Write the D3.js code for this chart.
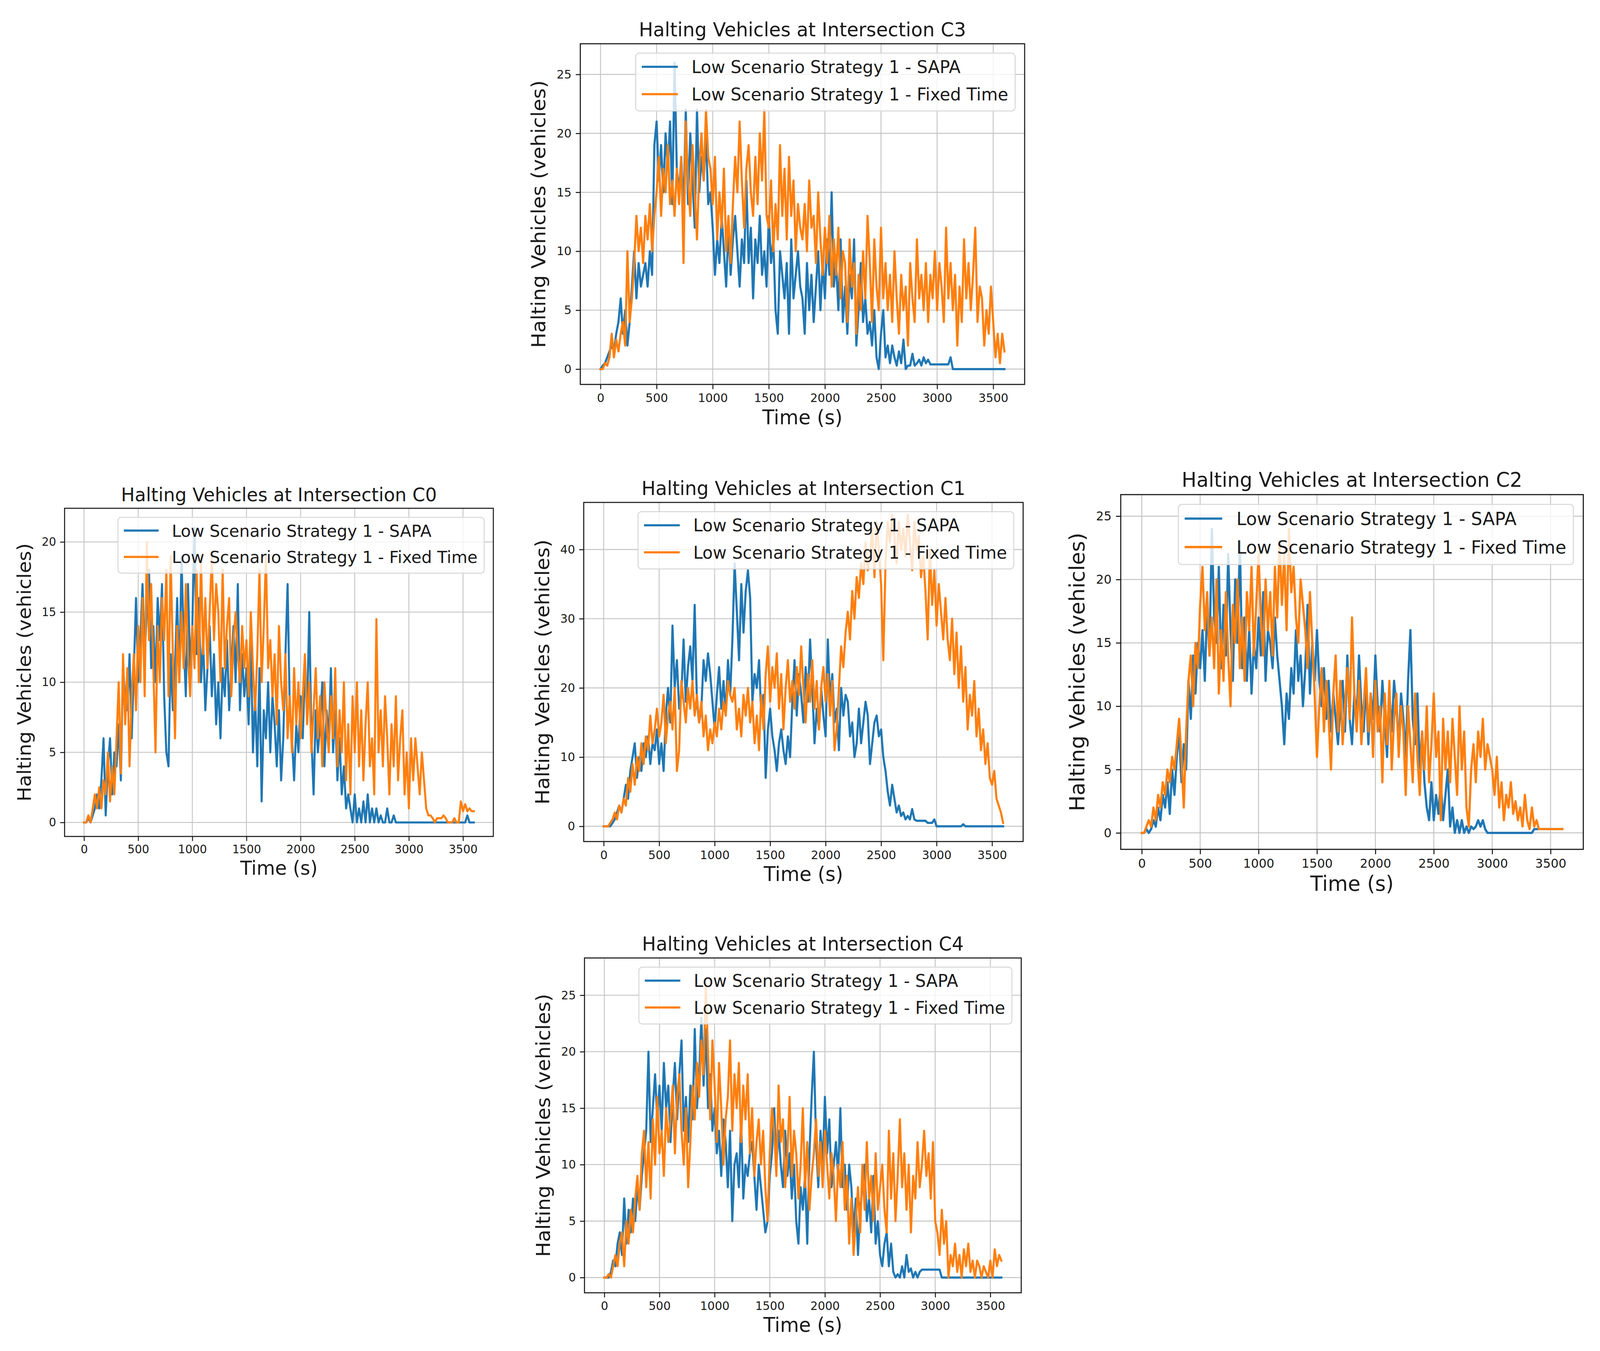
<!DOCTYPE html>
<html>
<head>
<meta charset="utf-8">
<script src="https://cdn.jsdelivr.net/npm/d3@7/dist/d3.min.js"></script>
<style>
  html, body { margin: 0; padding: 0; width: 100%; height: 100%; overflow: hidden; background: #fff; }
  svg { display: block; }
  text { font-family: "DejaVu Sans", sans-serif; fill: #1a1a1a; }
</style>
</head>
<body>
<script>
// halting vehicles, 5 intersections, SAPA vs fixed time
// one sample every 20 s, 0..3600 s

var STEP = 20;
var seriesNames = ["Low Scenario Strategy 1 - SAPA", "Low Scenario Strategy 1 - Fixed Time"];
var seriesColors = ["#1f77b4", "#ff7f0e"];
var xTicks = [0, 500, 1000, 1500, 2000, 2500, 3000, 3500];
var xLimits = [-180, 3780];

var c3Sapa = [
  0,0.3,0.5,1,1.5, 2,1.5,3,4,6, 3,5,2,4,7, 10,6,9,7,8, 9,7,10,8,19,
  21,16,19,15,20, 17,21,14,26,17, 15,18,13,22,14, 20,16,12,22,15, 18,16,20,14,15,
  12,8,11,9,13, 10,7,12,8,11, 13,10,7,11,9, 16,9,12,6,11, 9,13,8,10,7,
  13,9,11,5,3, 10,8,6,9,3, 11,6,8,10,7, 6,3,9,5,8, 4,7,10,5,9,
  6,11,8,15,7, 9,5,11,4,7, 3,8,6,11,2, 5,9,4,6,3, 4,2,5,1,0,
  3,5,1,2,0.5, 2,1,0.3,1.5,0.5, 2.5,0,0.3,0.3,1.3, 0.3,0.5,0.8,0.3,1, 0.5,0.8,0.4,0.4,0.4,
  0.4,0.4,0.4,0.4,0.4, 0.4,1,0,0,0, 0,0,0,0,0, 0,0,0,0,0, 0,0,0,0,0,
  0,0,0,0,0, 0
];
var c3Fixed = [
  0,0,0.5,0.3,1, 3,1,2.5,1.5,3, 4,2,10,4,6, 9,13,10,12,9, 13,11,14,10,13,
  15,18,13,17,15, 19,14,16,13,17, 14,18,9,21,16, 13,19,15,11,17, 20,16,22,18,17,
  14,18,11,15,12, 17,10,13,9,14, 18,15,21,16,12, 17,19,15,13,18, 14,20,16,22,13,
  12,16,10,14,11, 19,13,17,11,18, 13,16,10,14,12, 11,14,10,16,12, 13,9,15,11,8,
  12,9,13,7,11, 8,12,6,10,9, 4,11,7,9,3, 8,5,10,6,13, 9,4,11,7,5,
  12,6,9,5,8, 4,10,6,3,8, 5,7,2,9,6, 4,11,6,8,5, 9,4,8,6,10,
  5,9,7,4,12, 6,9,5,8,2, 7,4,11,6,9, 5,8,12,4,7, 6,2,5,3,7,
  4,1,3,0.5,3, 1.5
];

var c0Sapa = [
  0,0,0.3,0,0.5, 1,2,1,3,6, 0.5,4,6,2,5, 4,7,3,11,9, 8,12,6,11,16,
  10,13,17,12,15, 18,11,14,10,16, 13,17,9,5,4, 12,8,11,16,10, 19,13,9,17,11,
  14,21,12,16,10, 13,8,11,14,9, 12,7,10,6,11, 9,13,8,11,14, 10,17,8,12,9,
  11,7,13,5,9, 4,11,1.5,8,6, 10,5,9,7,4, 8,3,6,12,17, 8,6,3,7,5,
  9,6,11,8,15, 6,2,8,5,7, 10,4,8,6,11, 5,8,3,6,2, 4,1,2,1,0,
  2,0,1,0,1.5, 0,2,0,1,0, 1,0,0.5,0,0, 1,0,0,0.5,0, 0,0,0,0,0,
  0,0,0,0,0, 0,0,0,0,0, 0,0,0,0,0, 0,0,0,0,0, 0,0,0,0,0,
  0,0,0.5,0,0, 0
];
var c0Fixed = [
  0,0,0.5,0,1, 2,1,2.5,1,3, 2,5,1.5,4,2, 6,10,3.5,12,7, 11,4,9,12,8,
  14,10,16,9,20, 13,17,11,5,14, 10,16,13,18,9, 19,12,6,14,10, 15,11,17,12,9,
  14,11,18,10,19, 12,16,11,15,19, 13,17,15,10,18, 11,14,16,9,13, 15,12,10,14,11,
  13,9,15,11,8, 12,18,10,14,19, 11,13,9,12,7, 14,10,8,12,6, 9,5,11,7,10,
  6,9,12,7,10, 5,8,11,6,9, 4,10,7,5,9, 6,11,4,8,5, 10,3,7,2,9,
  5,10,4,8,3, 7,10,4,6,2, 14.5,5,8,4,9, 6,2,7,4,9, 3,6,8,2,5,
  1,6,3,6,4, 2,5,3,1,0.5, 0.5,0.3,0,0.3,0.3, 0.3,0.5,0.3,0,0, 0,0.3,0,0,1.5,
  0.8,1.3,0.8,1,0.8, 0.8
];

var c1Sapa = [
  0,0,0,0,0.5, 1,2,3,2,4, 6,4,8,10,12, 7,10,8,12,10, 13,9,12,11,14,
  9,12,8,16,20, 15,29,20,24,17, 19,27,18,23,26, 21,32,18,15,17, 24,21,25,22,18,
  14,19,23,17,21, 16,24,19,27,38, 31,24,35,28,34, 37,33,18,22,20, 24,16,19,7,14,
  17,13,11,8,12, 14,11,9,13,10, 18,24,16,22,19, 15,23,18,27,20, 12,17,14,20,16,
  13,27,18,22,15, 17,11,20,16,19, 18,13,15,10,12, 17,12,15,18,16, 9,12,15,16,13,
  14,10,8,5,3, 6,4,2,3,1.5, 2,1,1.5,1,2.5, 1,0.8,0.8,0.8,0.8, 0.8,0.5,0.5,0.5,1,
  0,0,0,0,0, 0,0,0,0,0, 0,0,0.3,0,0, 0,0,0,0,0, 0,0,0,0,0,
  0,0,0,0,0, 0
];
var c1Fixed = [
  0,0,0,0.5,1, 2,1,3,2,4, 3,7,5,9,6, 10,8,12,9,13, 11,16,12,14,17,
  13,15,19,12,16, 18,14,20,8,11, 21,18,15,20,17, 21,16,19,15,18, 13,16,11,14,12,
  15,13,17,14,18, 16,21,19,18,20, 14,17,13,19,16, 20,15,18,12,16, 11,19,14,22,26,
  18,23,20,25,17, 22,14,20,24,18, 21,17,23,19,26, 20,15,22,18,24, 17,21,14,20,23,
  18,22,16,21,11, 14,20,26,23,28, 31,27,34,30,36, 33,38,35,41,37, 39,43,36,44,40,
  35,24,38,44,41, 45,42,38,44,40, 43,39,45,41,37, 44,40,42,36,39, 34,27,40,32,37,
  29,35,31,27,33, 27,24,30,22,28, 20,26,18,23,14, 19,16,21,13,17, 11,14,9,12,7,
  6,8,4,3,2, 0.5
];

var c2Sapa = [
  0,0,0.3,0,0.3, 1,0.5,2,1,3, 2,4,1.5,5,3, 6,8,4,7,5, 12,9,14,11,15,
  13,16,12,18,14, 24,17,15,21,13, 18,14,22,16,12, 20,15,23,13,17, 12,16,11,15,13,
  17,14,19,12,16, 15,13,17,14,12, 10,7,11,9,13, 11,16,12,14,10, 13,18,11,15,12,
  16,12,10,13,9, 12,8,11,9,7, 10,12,8,14,9, 7,11,9,14,10, 8,12,7,11,9,
  14,10,8,12,9, 6,11,8,12,10, 7,11,9,6,12, 16,9,7,11,5, 8,4,2,1,4,
  1,3,1.5,4,1, 3,5,0.5,2,0, 1,0,1,0,0.5, 0,0.5,0.3,0.5,1, 0.5,1,0.3,0,0,
  0,0,0,0,0, 0,0,0,0,0, 0,0,0,0,0, 0,0,0,0.3,0.3, 0.3,0.3,0.3,0.3,0.3,
  0.3,0.3,0.3,0.3,0.3, 0.3
];
var c2Fixed = [
  0,0,0.5,1,0.5, 2,1,3,2,4, 3,5,4,6,5, 7,9,6,2,8, 12,14,10,15,13,
  18,21,16,19,14, 17,13,20,11,16, 12,19,14,10,18, 15,20,13,17,12, 19,16,21,14,18,
  22,17,14,20,16, 19,14,21,17,23, 18,22,16,24,19, 21,17,15,20,18, 16,13,19,15,11,
  6,10,13,8,12, 9,5,11,14,8, 12,7,10,13,9, 17,11,8,12,7, 10,13,8,11,6,
  12,8,10,4,11, 7,12,5,9,11, 6,10,8,3,10, 7,4,11,6,3, 8,5,10,4,7,
  11,6,8,1,9, 5,8,4,9,6, 3,10,5,8,2, 0.5,5,7,4,8, 6,9,5,7,6,
  5,3,6,2,4, 1,3,2,4,1.5, 2.5,1,2,0.5,3, 1,0.3,2,0.5,1, 0.3,0.3,0.3,0.3,0.3,
  0.3,0.3,0.3,0.3,0.3, 0.3
];

var c4Sapa = [
  0,0,0,0.5,1.5, 1,3,4,2,7, 3,6,4,7,5, 8,6,9,11,13, 20,12,15,18,14,
  17,13,19,15,17, 12,16,19,14,18, 21,13,16,12,17, 14,22,15,18,23, 17,22,15,18,13,
  15,11,13,9,14, 12,8,13,5,10, 11,8,14,7,10, 9,11,12,9,6, 10,8,6,4,5,
  9,11,15,10,13, 10,8,13,9,11, 7,10,5,3,8, 6,9,3,11,16, 20,12,8,13,10,
  16,11,14,8,10, 12,9,15,8,10, 6,10,8,4,7, 2,6,8,10,5, 7,4,9,3,5,
  2,1,3,4,1, 3,0.5,0,0.3,0, 1,0,2,0.5,0.8, 0,0.5,0,0.5,0.7, 0.7,0.7,0.7,0.7,0.7,
  0.7,0.7,0.7,0,0, 0,0,0,0,0, 0,0,0,0,0, 0,0,0,0,0, 0,0,0,0,0,
  0,0,0,0,0, 0
];
var c4Fixed = [
  0,0,0.3,0,1, 2,1,3,4,1, 5,3,6,4,7, 9,6,11,13,8, 12,7,14,10,16,
  11,13,9,15,12, 14,17,11,16,18, 13,10,15,8,12, 17,14,19,16,21, 18,26,20,14,21,
  17,12,19,15,10, 14,16,21,13,18, 15,19,12,17,14, 18,11,15,9,12, 14,10,13,8,5,
  11,15,13,9,17, 12,14,8,11,16, 9,13,11,7,10, 15,8,12,6,9, 11,14,9,12,8,
  13,10,7,11,9, 5,10,8,12,6, 9,3,7,2,5, 8,4,10,6,12, 7,9,5,11,6,
  8,10,6,4,13, 7,11,5,9,14, 8,11,6,10,4, 9,7,12,8,10, 13,9,11,7,12,
  5,4,2,6,3, 5,0,2,1,3, 0.5,2,0,2.5,1, 3,0.5,1.5,0,1.5, 1,0,1,0.5,0,
  1.5,0,2.5,1,2, 1.5
];

var yTicks5 = [0, 5, 10, 15, 20, 25];
var yTicks0 = [0, 5, 10, 15, 20];
var yTicks1 = [0, 10, 20, 30, 40];

var W = 4213, H = 3458;
// stretch the drawing onto the whole window
var svg = d3.select("body").append("svg")
  .attr("width", "100%")
  .attr("height", "100%")
  .attr("viewBox", "0 0 " + W + " " + H)
  .attr("preserveAspectRatio", "none");

svg.append("rect").attr("width", W).attr("height", H).attr("fill", "#fff");

// panel placement in the page (the original is a collage of 5 figures)
var panels = [
  { id: "C3", left: 1528, top: 112,  w: 1170, h: 872, k: 1.0,   yLim: [-1.3, 27.6], yTicks: yTicks5, data: [c3Sapa, c3Fixed] },
  { id: "C0", left: 170,  top: 1301, w: 1129, h: 840, k: 0.965, yLim: [-1.0, 22.4], yTicks: yTicks0, data: [c0Sapa, c0Fixed] },
  { id: "C1", left: 1537, top: 1286, w: 1157, h: 868, k: 0.99,  yLim: [-2.2, 46.8], yTicks: yTicks1, data: [c1Sapa, c1Fixed] },
  { id: "C2", left: 2951, top: 1266, w: 1218, h: 908, k: 1.041, yLim: [-1.3, 26.7], yTicks: yTicks5, data: [c2Sapa, c2Fixed] },
  { id: "C4", left: 1539, top: 2452, w: 1150, h: 857, k: 0.983, yLim: [-1.35, 28.3], yTicks: yTicks5, data: [c4Sapa, c4Fixed] }
];

var drawPanel = function (p) {
  var k = p.k;
  var g = svg.append("g").attr("transform", "translate(" + p.left + "," + p.top + ")");

  var x = d3.scaleLinear().domain(xLimits).range([0, p.w]);
  var y = d3.scaleLinear().domain(p.yLim).range([p.h, 0]);

  var clipId = "clip-" + p.id;
  g.append("clipPath").attr("id", clipId)
    .append("rect").attr("width", p.w).attr("height", p.h);

  // grid
  var grid = g.append("g").attr("class", "grid");
  grid.selectAll(".gx").data(xTicks).enter().append("line")
    .attr("x1", function (d) { return x(d); })
    .attr("x2", function (d) { return x(d); })
    .attr("y1", 0).attr("y2", p.h)
    .attr("stroke", "#c4c4c4").attr("stroke-width", 2.4 * k);
  grid.selectAll(".gy").data(p.yTicks).enter().append("line")
    .attr("x1", 0).attr("x2", p.w)
    .attr("y1", function (d) { return y(d); })
    .attr("y2", function (d) { return y(d); })
    .attr("stroke", "#c4c4c4").attr("stroke-width", 2.4 * k);

  // series
  var line = d3.line()
    .x(function (d, i) { return x(i * STEP); })
    .y(function (d) { return y(d); });
  var lines = g.append("g").attr("clip-path", "url(#" + clipId + ")");
  p.data.forEach(function (vals, si) {
    lines.append("path")
      .datum(vals)
      .attr("d", line)
      .attr("fill", "none")
      .attr("stroke", seriesColors[si])
      .attr("stroke-width", 5.6 * k)
      .attr("stroke-linejoin", "round")
      .attr("stroke-linecap", "square");
  });

  // axes
  var xAxis = d3.axisBottom(x).tickValues(xTicks).tickSize(12 * k).tickPadding(11 * k).tickFormat(d3.format("d"));
  var yAxis = d3.axisLeft(y).tickValues(p.yTicks).tickSize(12 * k).tickPadding(11 * k).tickFormat(d3.format("d"));

  var gx = g.append("g").attr("transform", "translate(0," + p.h + ")").call(xAxis);
  var gy = g.append("g").call(yAxis);
  [gx, gy].forEach(function (a) {
    a.select(".domain").remove();
    a.selectAll(".tick line").attr("stroke", "#1a1a1a").attr("stroke-width", 2.6 * k);
    a.selectAll(".tick text")
      .attr("font-family", "DejaVu Sans")
      .attr("font-size", 31 * k)
      .attr("fill", "#1a1a1a");
  });

  // frame
  g.append("rect")
    .attr("width", p.w).attr("height", p.h)
    .attr("fill", "none")
    .attr("stroke", "#1a1a1a")
    .attr("stroke-width", 2.8 * k);

  // titles
  g.append("text")
    .attr("x", p.w / 2).attr("y", -19 * k)
    .attr("text-anchor", "middle")
    .attr("font-size", 50 * k)
    .text("Halting Vehicles at Intersection " + p.id);

  g.append("text")
    .attr("x", p.w / 2).attr("y", p.h + 102 * k)
    .attr("text-anchor", "middle")
    .attr("font-size", 52 * k)
    .text("Time (s)");

  g.append("text")
    .attr("transform", "translate(" + (-92 * k) + "," + (p.h / 2) + ") rotate(-90)")
    .attr("text-anchor", "middle")
    .attr("font-size", 52 * k)
    .text("Halting Vehicles (vehicles)");

  // legend, upper right
  var leg = g.append("g");
  var fs = 45 * k;
  var labels = [];
  seriesNames.forEach(function (name, i) {
    labels.push(leg.append("text")
      .attr("x", 147 * k)
      .attr("y", (35 + 70 * i) * k)
      .attr("dy", "0.36em")
      .attr("font-size", fs)
      .text(name));
  });
  var tw = d3.max(labels, function (t) { return t.node().getComputedTextLength(); });
  var lw = 147 * k + tw + 18 * k;
  var lh = 148 * k;
  leg.insert("rect", ":first-child")
    .attr("width", lw).attr("height", lh)
    .attr("rx", 9 * k).attr("ry", 9 * k)
    .attr("fill", "#fff").attr("fill-opacity", 0.8)
    .attr("stroke", "#d6d6d6").attr("stroke-width", 2.5 * k);
  seriesColors.forEach(function (c, i) {
    leg.append("line")
      .attr("x1", 16 * k).attr("x2", 111 * k)
      .attr("y1", (35 + 70 * i) * k).attr("y2", (35 + 70 * i) * k)
      .attr("stroke", c).attr("stroke-width", 5.6 * k);
  });
  leg.attr("transform", "translate(" + (p.w - 25 * k - lw) + "," + (24 * k) + ")");
};

panels.forEach(drawPanel);
</script>
</body>
</html>
